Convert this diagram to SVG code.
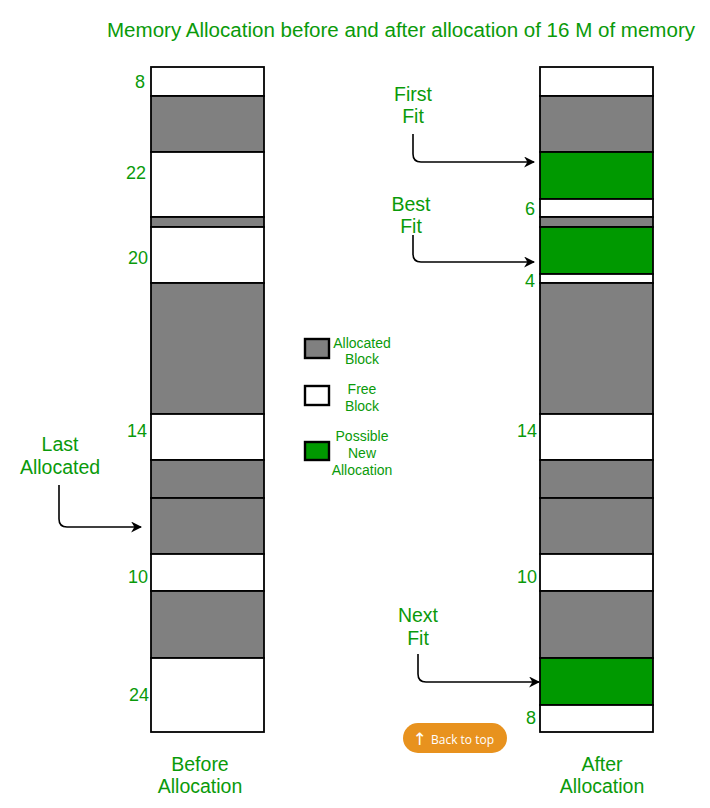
<svg xmlns="http://www.w3.org/2000/svg" width="710" height="808" viewBox="0 0 710 808">
<defs>
<marker id="ah" viewBox="0 0 10 10" refX="9" refY="5" markerWidth="11" markerHeight="11" markerUnits="userSpaceOnUse" orient="auto">
<path d="M0,0 L10,5 L0,10 L3,5 Z" fill="#000"/>
</marker>
</defs>
<style>
text{font-family:"Liberation Sans",Arial,sans-serif;fill:#0a9a0a}
.t{font-size:20px}
.l{font-size:19.5px;text-anchor:middle}
.n{font-size:18px;text-anchor:end}
.g{font-size:14px;text-anchor:middle}
.a{fill:#808080;stroke:#000;stroke-width:1.8}
.f{fill:#fff;stroke:#000;stroke-width:1.8}
.p{fill:#009900;stroke:#000;stroke-width:1.8}
.lg{stroke:#000;stroke-width:2.4}
.cn{fill:none;stroke:#000;stroke-width:1.6}
</style>
<rect width="710" height="808" fill="#fff"/>
<text class="t" x="107" y="37" textLength="588" lengthAdjust="spacingAndGlyphs">Memory Allocation before and after allocation of 16 M of memory</text>

<g id="before">
<rect class="f" x="151" y="67" width="113" height="29"/>
<rect class="a" x="151" y="96" width="113" height="56"/>
<rect class="f" x="151" y="152" width="113" height="65"/>
<rect class="a" x="151" y="217" width="113" height="10"/>
<rect class="f" x="151" y="227" width="113" height="56"/>
<rect class="a" x="151" y="283" width="113" height="131"/>
<rect class="f" x="151" y="414" width="113" height="46"/>
<rect class="a" x="151" y="460" width="113" height="38"/>
<rect class="a" x="151" y="498" width="113" height="56"/>
<rect class="f" x="151" y="554" width="113" height="37"/>
<rect class="a" x="151" y="591" width="113" height="67"/>
<rect class="f" x="151" y="658" width="113" height="74"/>
<text class="n" x="145" y="88">8</text>
<text class="n" x="146" y="179">22</text>
<text class="n" x="148" y="264">20</text>
<text class="n" x="147" y="437">14</text>
<text class="n" x="148" y="583">10</text>
<text class="n" x="149" y="701">24</text>
<text class="l" x="200" y="771">Before</text>
<text class="l" x="200" y="793">Allocation</text>
</g>

<g id="after">
<rect class="f" x="540" y="67" width="113" height="29"/>
<rect class="a" x="540" y="96" width="113" height="56"/>
<rect class="p" x="540" y="152" width="113" height="47"/>
<rect class="f" x="540" y="199" width="113" height="18"/>
<rect class="a" x="540" y="217" width="113" height="10"/>
<rect class="p" x="540" y="227" width="113" height="47"/>
<rect class="f" x="540" y="274" width="113" height="9"/>
<rect class="a" x="540" y="283" width="113" height="131"/>
<rect class="f" x="540" y="414" width="113" height="46"/>
<rect class="a" x="540" y="460" width="113" height="38"/>
<rect class="a" x="540" y="498" width="113" height="56"/>
<rect class="f" x="540" y="554" width="113" height="37"/>
<rect class="a" x="540" y="591" width="113" height="67"/>
<rect class="p" x="540" y="658" width="113" height="47"/>
<rect class="f" x="540" y="705" width="113" height="27"/>
<text class="n" x="535" y="215">6</text>
<text class="n" x="535" y="287">4</text>
<text class="n" x="537" y="437">14</text>
<text class="n" x="537" y="583">10</text>
<text class="n" x="536" y="724">8</text>
<text class="l" x="602" y="771">After</text>
<text class="l" x="602" y="793">Allocation</text>
</g>

<g id="legend">
<rect class="lg" x="305" y="339" width="24" height="19" fill="#808080"/>
<text class="g" x="362" y="348">Allocated</text>
<text class="g" x="362" y="364">Block</text>
<rect class="lg" x="305" y="386" width="24" height="19" fill="#fff"/>
<text class="g" x="362" y="394">Free</text>
<text class="g" x="362" y="411">Block</text>
<rect class="lg" x="305" y="442" width="24" height="18" fill="#009900"/>
<text class="g" x="362" y="441">Possible</text>
<text class="g" x="362" y="458">New</text>
<text class="g" x="362" y="475">Allocation</text>
</g>

<g id="label-first-fit">
<text class="l" x="413" y="101">First</text>
<text class="l" x="413" y="123">Fit</text>
</g>
<g id="label-best-fit">
<text class="l" x="411" y="211">Best</text>
<text class="l" x="411" y="233">Fit</text>
</g>
<g id="label-next-fit">
<text class="l" x="418" y="622">Next</text>
<text class="l" x="418" y="645">Fit</text>
</g>
<g id="label-last">
<text class="l" x="60" y="451">Last</text>
<text class="l" x="60" y="474">Allocated</text>
</g>

<g id="connectors">
<path class="cn" d="M413,134 V154 Q413,162 421,162 H534" marker-end="url(#ah)"/>
<path class="cn" d="M413,235 V254 Q413,262 421,262 H534" marker-end="url(#ah)"/>
<path class="cn" d="M418,654 V674 Q418,682 426,682 H539" marker-end="url(#ah)"/>
<path class="cn" d="M59,485 V519 Q59,527 67,527 H141" marker-end="url(#ah)"/>
</g>

<g id="back-to-top">
<rect x="403" y="723" width="104" height="30" rx="15" fill="#E8921E"/>
<text x="419.5" y="745" text-anchor="middle" style="fill:#fff;font-size:17px;font-family:'DejaVu Sans',sans-serif">↑</text>
<text x="431" y="744" textLength="63" lengthAdjust="spacingAndGlyphs" style="fill:#fff;font-size:13px;font-family:'Open Sans','Liberation Sans',sans-serif">Back to top</text>
</g>
</svg>
